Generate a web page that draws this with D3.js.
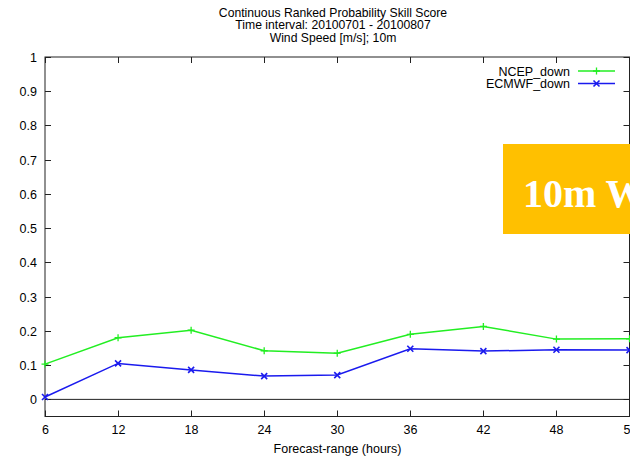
<!DOCTYPE html>
<html><head><meta charset="utf-8">
<script src="https://cdn.jsdelivr.net/npm/d3@7"></script>
<style>body{margin:0;background:#fff}svg{display:block}</style>
</head><body>
<script>
const titleLines = ["Continuous Ranked Probability Skill Score", "Time interval: 20100701 - 20100807", "Wind Speed [m/s]; 10m"];
const forecastHours = [6, 12, 18, 24, 30, 36, 42, 48, 54];
const ncepDown = [0.103, 0.180, 0.202, 0.142, 0.135, 0.190, 0.213, 0.176, 0.177];
const ecmwfDown = [0.007, 0.105, 0.086, 0.068, 0.071, 0.148, 0.141, 0.145, 0.144];
const yTicks = [0, 0.1, 0.2, 0.3, 0.4, 0.5, 0.6, 0.7, 0.8, 0.9, 1];
const xLabel = "Forecast-range (hours)";
const seriesNames = ["NCEP_down", "ECMWF_down"];
const bannerText = "10m Wind";

const W = 630, H = 459;
const svg = d3.select("body").append("svg").attr("width", W).attr("height", H);
const font = "'Liberation Sans', Arial, sans-serif";
const fs = "12.5px";
const pL = 45, pR = 629.5, pT = 57, pB = 416.5;
const x = d3.scaleLinear().domain([6, 54]).range([pL, pR]);
const y = d3.scaleLinear().domain([-0.05, 1]).range([pB, pT]);

// titles
svg.selectAll("text.title").data(titleLines).enter().append("text")
  .attr("x", 333).attr("y", (d, i) => 16.5 + i * 12.6)
  .attr("text-anchor", "middle").style("font-family", font).style("font-size", "12.2px").attr("fill", "#000")
  .text(d => d);

const g = svg.append("g");
const tickLen = 6;
// frame
g.append("rect").attr("x", pL).attr("y", pT).attr("width", pR - pL).attr("height", pB - pT)
  .attr("fill", "none").attr("stroke", "#222").attr("stroke-width", 1);
// zero line
g.append("line").attr("x1", pL).attr("x2", pR).attr("y1", y(0)).attr("y2", y(0)).attr("stroke", "#222");

// y ticks
yTicks.forEach(v => {
  const yy = Math.round(y(v)) + 0.5;
  g.append("line").attr("x1", pL).attr("x2", pL + tickLen).attr("y1", yy).attr("y2", yy).attr("stroke", "#222");
  g.append("line").attr("x1", pR).attr("x2", pR - tickLen).attr("y1", yy).attr("y2", yy).attr("stroke", "#222");
  g.append("text").attr("x", 37).attr("y", yy + 4.5).attr("text-anchor", "end")
    .style("font-family", font).style("font-size", fs).text(d3.format("")(v));
});
// x ticks
forecastHours.forEach(v => {
  const xx = Math.round(x(v)) + 0.5;
  g.append("line").attr("x1", xx).attr("x2", xx).attr("y1", pB).attr("y2", pB - tickLen).attr("stroke", "#222");
  g.append("line").attr("x1", xx).attr("x2", xx).attr("y1", pT).attr("y2", pT + tickLen).attr("stroke", "#222");
  g.append("text").attr("x", xx).attr("y", 434).attr("text-anchor", "middle")
    .style("font-family", font).style("font-size", fs).text(v);
});
svg.append("text").attr("x", 337.5).attr("y", 452.5).attr("text-anchor", "middle")
  .style("font-family", font).style("font-size", fs).text(xLabel);

const line = d3.line().x(d => x(d[0])).y(d => y(d[1]));
const series = [
  {name: seriesNames[0], vals: ncepDown, color: "#22ee22", mark: "plus"},
  {name: seriesNames[1], vals: ecmwfDown, color: "#1a1aee", mark: "cross"}
];
function marker(sel, cx, cy, type, color) {
  const s = 3.5;
  if (type === "plus") {
    sel.append("path").attr("d", `M${cx - s},${cy}H${cx + s}M${cx},${cy - s}V${cy + s}`).attr("stroke", color).attr("stroke-width", 1.3);
  } else {
    const t = 3;
    sel.append("path").attr("d", `M${cx - t},${cy - t}L${cx + t},${cy + t}M${cx - t},${cy + t}L${cx + t},${cy - t}`).attr("stroke", color).attr("stroke-width", 1.6);
  }
}
series.forEach((s, si) => {
  const pts = forecastHours.map((h, i) => [h, s.vals[i]]);
  g.append("path").attr("d", line(pts)).attr("fill", "none").attr("stroke", s.color).attr("stroke-width", 1.5);
  pts.forEach(p => marker(g, x(p[0]), y(p[1]), s.mark, s.color));
  // legend
  const ly = 71 + si * 12.5;
  svg.append("text").attr("x", 570).attr("y", ly + 4.5).attr("text-anchor", "end")
    .style("font-family", font).style("font-size", fs).text(s.name);
  svg.append("line").attr("x1", 578).attr("x2", 615).attr("y1", ly).attr("y2", ly).attr("stroke", s.color).attr("stroke-width", 1.5);
  marker(svg, 596.5, ly, s.mark, s.color);
});

// banner overlay
svg.append("rect").attr("x", 503).attr("y", 144).attr("width", 140).attr("height", 90).attr("fill", "#ffc000");
svg.append("text").attr("x", 523).attr("y", 207).attr("fill", "#fff")
  .style("font-family", "'Liberation Serif', 'Times New Roman', serif").style("font-weight", "bold").style("font-size", "40px")
  .text(bannerText);
</script>
</body></html>
